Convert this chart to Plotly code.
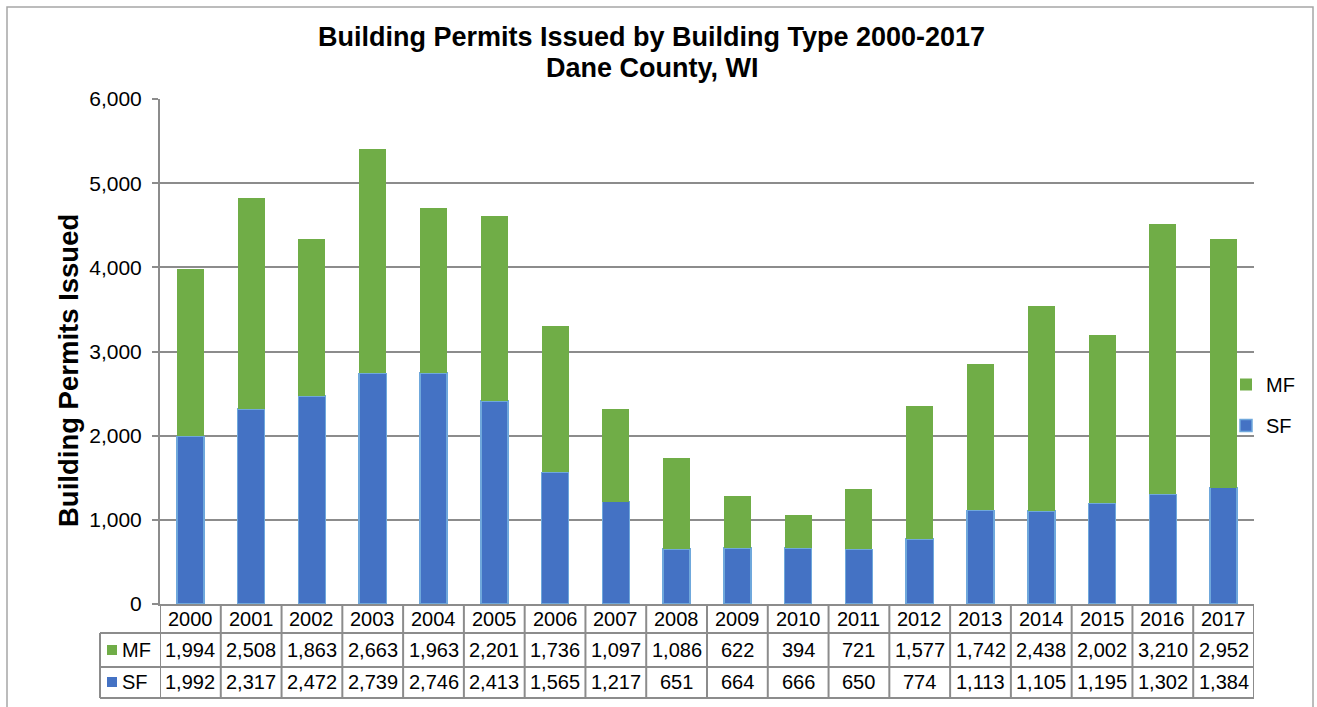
import plotly.graph_objects as go

years = [str(y) for y in range(2000, 2018)]
mf = [1994, 2508, 1863, 2663, 1963, 2201, 1736, 1097, 1086, 622, 394, 721, 1577, 1742, 2438, 2002, 3210, 2952]
sf = [1992, 2317, 2472, 2739, 2746, 2413, 1565, 1217, 651, 664, 666, 650, 774, 1113, 1105, 1195, 1302, 1384]
y_ticks = [0, 1000, 2000, 3000, 4000, 5000, 6000]

BLUE = "#4472C4"
BLUE_EDGE = "#6FA8DC"
GREEN = "#70AD47"
GRID = "#8C8C8C"
FONT = "Liberation Sans, Arial, sans-serif"

W, H = 1317, 707
L, R, T, B = 160, 63, 99, 103
plot_w = W - L - R
plot_h = H - T - B
n = len(years)


def xp(px):
    return (px - L) / plot_w


def yp(py):
    return (H - B - py) / plot_h


fig = go.Figure()
fig.add_trace(go.Bar(x=list(range(n)), y=sf, name="SF", legendgroup="sf", legendrank=2,
                     marker=dict(color=BLUE, line=dict(color=BLUE_EDGE, width=1.5)),
                     width=0.445))
fig.add_trace(go.Bar(x=list(range(n)), y=mf, name="MF", legendgroup="mf", legendrank=1,
                     marker=dict(color=GREEN, line=dict(width=0)),
                     width=0.445))

shapes = []
annotations = []
line_style = dict(color=GRID, width=2)

# table geometry
y_top = 0
y_r1 = yp(633)
y_r2 = yp(667)
y_bot = yp(698)
x_left = xp(100)

for i in range(n + 1):
    shapes.append(dict(type="line", xref="x", yref="paper", x0=i - 0.5, x1=i - 0.5,
                       y0=y_top, y1=y_bot, line=line_style))
shapes.append(dict(type="line", xref="paper", yref="paper", x0=x_left, x1=x_left,
                   y0=y_r1, y1=y_bot, line=line_style))
for yy in (y_r1, y_r2, y_bot):
    shapes.append(dict(type="line", xref="paper", yref="paper", x0=x_left, x1=1,
                       y0=yy, y1=yy, line=line_style))

cell_font = dict(family=FONT, size=20, color="#000000")
for i, yr in enumerate(years):
    annotations.append(dict(x=i, y=yp(618.5), xref="x", yref="paper", text=yr,
                            showarrow=False, font=cell_font, xanchor="center", yanchor="middle"))
    annotations.append(dict(x=i, y=yp(650), xref="x", yref="paper", text=f"{mf[i]:,}",
                            showarrow=False, font=cell_font, xanchor="center", yanchor="middle"))
    annotations.append(dict(x=i, y=yp(682), xref="x", yref="paper", text=f"{sf[i]:,}",
                            showarrow=False, font=cell_font, xanchor="center", yanchor="middle"))

# row labels with keys
for label, color, cy in (("MF", GREEN, 650), ("SF", BLUE, 682)):
    shapes.append(dict(type="rect", xref="paper", yref="paper", x0=xp(107), x1=xp(117),
                       y0=yp(cy - 5), y1=yp(cy + 5), fillcolor=color, line=dict(width=0)))
    annotations.append(dict(x=xp(120), y=yp(cy), xref="paper", yref="paper", text=label,
                            showarrow=False, font=cell_font, xanchor="left", yanchor="middle"))

# y-axis title
annotations.append(dict(x=xp(68), y=yp(371), xref="paper", yref="paper",
                        text="<b>Building Permits Issued</b>", textangle=-90, showarrow=False,
                        font=dict(family=FONT, size=27.5, color="#000000"),
                        xanchor="center", yanchor="middle"))

# second title line
annotations.append(dict(x=xp(652), y=yp(68), xref="paper", yref="paper",
                        text="<b>Dane County, WI</b>", showarrow=False,
                        font=dict(family=FONT, size=27, color="#000000"),
                        xanchor="center", yanchor="middle"))

# outer chart border
shapes.append(dict(type="rect", xref="paper", yref="paper",
                   x0=xp(7), x1=xp(1313),
                   y0=yp(720), y1=yp(7), line=dict(color="#A6A6A6", width=1.5),
                   fillcolor="rgba(0,0,0,0)", layer="below"))

fig.update_layout(
    width=W, height=H,
    margin=dict(l=L, r=R, t=T, b=B, autoexpand=False),
    paper_bgcolor="white", plot_bgcolor="white",
    barmode="stack",
    font=dict(family=FONT, color="#000000"),
    title=dict(text="<b>Building Permits Issued by Building Type 2000-2017</b>",
               x=651.5 / W, xanchor="center", xref="container",
               y=1 - 37 / H, yanchor="middle", yref="container",
               font=dict(family=FONT, size=27, color="#000000")),
    xaxis=dict(range=[-0.5, n - 0.5], showticklabels=False, ticks="", showgrid=False,
               showline=True, linecolor=GRID, linewidth=2, zeroline=False, fixedrange=True),
    yaxis=dict(range=[0, 6000], tickvals=y_ticks, tickformat=",", showgrid=True,
               gridcolor=GRID, gridwidth=2, showline=True, linecolor=GRID, linewidth=2,
               ticks="outside", ticklen=6, tickcolor=GRID, tickwidth=2, ticklabelstandoff=6,
               tickfont=dict(family=FONT, size=21, color="#000000"), zeroline=False),
    legend=dict(x=xp(1226), y=yp(365), xanchor="left", yanchor="top",
                traceorder="grouped", tracegroupgap=12,
                font=dict(family=FONT, size=20, color="#000000"),
                bgcolor="rgba(0,0,0,0)"),
    shapes=shapes,
    annotations=annotations,
    bargap=0.5,
)

fig.write_html("out.html", config={"displayModeBar": False},
               post_script="document.body.style.margin='0px';document.body.style.overflow='hidden';")
